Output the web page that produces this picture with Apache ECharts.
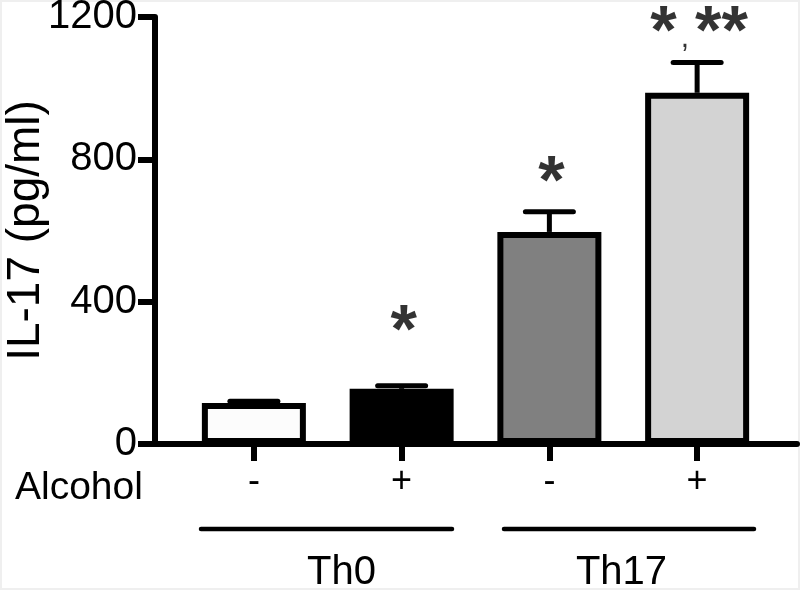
<!DOCTYPE html>
<html><head><meta charset="utf-8">
<script src="https://cdn.jsdelivr.net/npm/echarts@6/dist/echarts.min.js"></script>
<style>html,body{margin:0;padding:0;background:#fff}#c{width:800px;height:590px}</style>
</head><body><div id="c"></div>
<script>
// ---- data ----
const categories = ['-', '+', '-', '+'];
const groupNames = ['Th0', 'Th17'];
const rowLabel = 'Alcohol';
const means = [115, 155, 596, 987];
const errors = [5, 9, 57, 85];
const sigLabels = ['', '*', '*', '*,**'];
const sigY = [0, 310, 731, 1152];
const yMin = 0, yMax = 1200, yStep = 400;
const barColors = ['#fcfcfc', '#000000', '#808080', '#d3d3d3'];

const FONT = 'Liberation Sans, Arial, Helvetica, sans-serif';
const chart = echarts.init(document.getElementById('c'), null, {renderer: 'canvas'});

const option = {
  backgroundColor: '#ffffff',
  animation: false,
  grid: [
    {left: 180, right: 29, top: 17, bottom: 146, containLabel: false, outerBoundsMode: 'none'},
    {left: 155, right: 3, top: 17, bottom: 146, containLabel: false, outerBoundsMode: 'none'}
  ],
  xAxis: [
    {
      type: 'category', gridIndex: 0, data: categories,
      axisLine: {show: false},
      axisTick: {show: true, alignWithLabel: true, length: 17, lineStyle: {color: '#000', width: 6}},
      axisLabel: {color: '#000', fontSize: 36, fontFamily: FONT, margin: 20},
      splitLine: {show: false}
    },
    {
      type: 'value', gridIndex: 1, min: 0, max: 1,
      axisLine: {show: true, onZero: false, lineStyle: {color: '#000', width: 6}},
      axisTick: {show: false}, axisLabel: {show: false}, splitLine: {show: false}
    }
  ],
  yAxis: [
    {type: 'value', gridIndex: 0, min: yMin, max: yMax, interval: yStep, show: false, splitLine: {show: false}},
    {
      type: 'value', gridIndex: 1, min: yMin, max: yMax, interval: yStep,
      name: 'IL-17 (pg/ml)', nameLocation: 'middle', nameGap: 106, nameMoveOverlap: false,
      nameTextStyle: {color: '#000', fontSize: 46, fontFamily: FONT},
      axisLine: {show: true, lineStyle: {color: '#000', width: 6}},
      axisTick: {show: true, length: 17, lineStyle: {color: '#000', width: 6}},
      axisLabel: {color: '#000', fontSize: 40, fontFamily: FONT, margin: 18, formatter: v => String(v)},
      splitLine: {show: false}
    }
  ],
  series: [
    {
      type: 'bar', xAxisIndex: 0, yAxisIndex: 0, barWidth: 104,
      data: means.map((v, i) => ({value: v, itemStyle: {color: barColors[i], borderColor: '#000', borderWidth: 6}})),
      z: 2
    },
    {
      type: 'custom', xAxisIndex: 0, yAxisIndex: 0, z: 3,
      data: means.map((v, i) => [i, v, v + errors[i]]),
      renderItem: function (params, api) {
        const b = api.coord([api.value(0), api.value(1)]);
        const t = api.coord([api.value(0), api.value(2)]);
        return {type: 'group', children: [
          {type: 'line', shape: {x1: b[0], y1: b[1], x2: t[0], y2: t[1]}, style: {stroke: '#000', lineWidth: 5, lineCap: 'butt'}},
          {type: 'line', shape: {x1: t[0] - 24, y1: t[1], x2: t[0] + 24, y2: t[1]}, style: {stroke: '#000', lineWidth: 5, lineCap: 'round'}}
        ]};
      }
    },
    {
      type: 'scatter', xAxisIndex: 0, yAxisIndex: 0, symbolSize: 0, z: 4,
      data: sigLabels.map((s, i) => ({value: [i, sigY[i]], name: s})),
      label: {
        show: true, position: 'inside', color: '#000', offset: [2, 0],
        formatter: p => p.name ? '{s|' + p.name.replace(/,/g, '}{c|,}{s|') + '}' : '',
        rich: {
          s: {fontSize: 68, fontWeight: 'bold', fontFamily: FONT, color: '#000'},
          c: {fontSize: 30, fontFamily: FONT, color: '#000', padding: [10, 6, 0, 4]}
        }
      }
    }
  ],
  graphic: [
    {type: 'rect', shape: {x: 0, y: 0, width: 800, height: 590}, style: {fill: 'none', stroke: '#efefef', lineWidth: 4}, silent: true},
    {type: 'text', style: {x: 15, y: 488, text: rowLabel, font: '39px ' + FONT, fill: '#000', textVerticalAlign: 'middle'}},
    {type: 'line', shape: {x1: 201, y1: 529, x2: 452, y2: 529}, style: {stroke: '#000', lineWidth: 4.5, lineCap: 'round'}},
    {type: 'line', shape: {x1: 504, y1: 529, x2: 754, y2: 529}, style: {stroke: '#000', lineWidth: 4.5, lineCap: 'round'}},
    {type: 'text', style: {x: 341.5, y: 573, text: groupNames[0], font: '40px ' + FONT, fill: '#000', textAlign: 'center', textVerticalAlign: 'middle'}},
    {type: 'text', style: {x: 621.5, y: 573, text: groupNames[1], font: '40px ' + FONT, fill: '#000', textAlign: 'center', textVerticalAlign: 'middle'}}
  ]
};
chart.setOption(option);
</script>
</body></html>
